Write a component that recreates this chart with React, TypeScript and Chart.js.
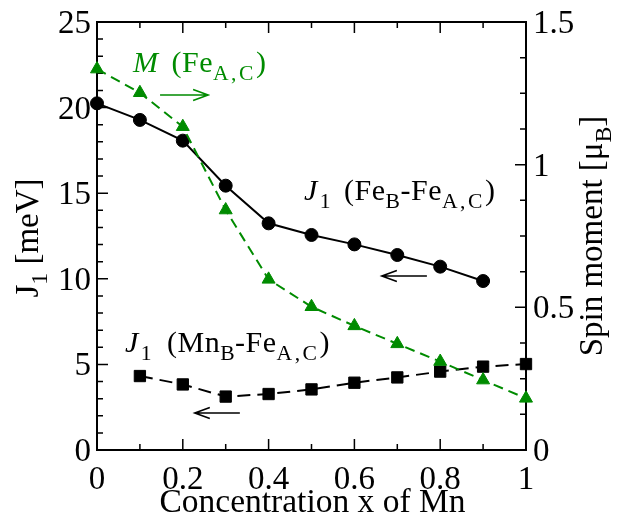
import React, { useEffect, useRef } from 'react';
import { Chart, registerables } from 'chart.js';

Chart.register(...registerables);

// ---- data ----
const concFe = [0, 0.1, 0.2, 0.3, 0.4, 0.5, 0.6, 0.7, 0.8, 0.9];
const j1FeFe = [20.25, 19.28, 18.07, 15.44, 13.24, 12.56, 12.01, 11.39, 10.71, 9.87];
const concMn = [0.1, 0.2, 0.3, 0.4, 0.5, 0.6, 0.7, 0.8, 0.9, 1.0];
const j1MnFe = [4.32, 3.83, 3.12, 3.27, 3.54, 3.93, 4.24, 4.58, 4.87, 5.02];
const concSpin = [0, 0.1, 0.2, 0.3, 0.4, 0.5, 0.6, 0.7, 0.8, 0.9, 1.0];
const spinMoment = [1.335, 1.252, 1.133, 0.841, 0.598, 0.502, 0.435, 0.372, 0.31, 0.245, 0.181];

const xTickValues = [0, 0.2, 0.4, 0.6, 0.8, 1];
const xTickLabels = ['0', '0.2', '0.4', '0.6', '0.8', '1'];
const leftTickValues = [0, 5, 10, 15, 20, 25];
const leftTickLabels = ['0', '5', '10', '15', '20', '25'];
const rightTickValues = [0, 0.5, 1, 1.5];
const rightTickLabels = ['0', '0.5', '1', '1.5'];

const GREEN = '#008b00';
const FONT = '"Liberation Serif", "Times New Roman", serif';

type Part = { t: string; it?: boolean; sub?: boolean; ls?: number; pre?: number };

const SUB_SCALE = 0.72;

function fontFor(p: Part, size: number) {
  const s = p.sub ? size * SUB_SCALE : size;
  return `${p.it ? 'italic ' : ''}${s}px ${FONT}`;
}
function setLs(ctx: any, v: number) {
  if ('letterSpacing' in ctx) ctx.letterSpacing = `${v}px`;
}
function measureRich(ctx: CanvasRenderingContext2D, parts: Part[], size: number, baseLs = 0) {
  let w = 0;
  for (const p of parts) {
    ctx.font = fontFor(p, size);
    setLs(ctx, p.ls ?? baseLs);
    w += (p.pre ?? 0) + ctx.measureText(p.t).width;
  }
  setLs(ctx, 0);
  return w;
}
function drawRich(ctx: CanvasRenderingContext2D, parts: Part[], x: number, y: number, size: number, baseLs = 0) {
  let cx = x;
  ctx.textAlign = 'left';
  ctx.textBaseline = 'alphabetic';
  for (const p of parts) {
    ctx.font = fontFor(p, size);
    setLs(ctx, p.ls ?? baseLs);
    cx += p.pre ?? 0;
    ctx.fillText(p.t, cx, y + (p.sub ? size * 0.28 : 0));
    cx += ctx.measureText(p.t).width;
  }
  setLs(ctx, 0);
}
function arrow(ctx: CanvasRenderingContext2D, x0: number, x1: number, y: number, color: string) {
  const dir = x1 > x0 ? 1 : -1;
  ctx.save();
  ctx.strokeStyle = color;
  ctx.lineWidth = 1.6;
  ctx.beginPath();
  ctx.moveTo(x0, y);
  ctx.lineTo(x1, y);
  ctx.moveTo(x1 - dir * 15, y - 5.5);
  ctx.lineTo(x1, y);
  ctx.lineTo(x1 - dir * 15, y + 5.5);
  ctx.stroke();
  ctx.restore();
}

const labelM: Part[] = [
  { t: 'M', it: true },
  { t: ' (Fe', pre: 5 },
  { t: 'A,C', sub: true, ls: 2.5 },
  { t: ')' },
];
const labelFe: Part[] = [
  { t: 'J', it: true },
  { t: '1', sub: true, pre: 2 },
  { t: ' (Fe', pre: 5 },
  { t: 'B', sub: true },
  { t: '-Fe' },
  { t: 'A,C', sub: true, ls: 2.5 },
  { t: ')' },
];
const labelMn: Part[] = [
  { t: 'J', it: true },
  { t: '1', sub: true, pre: 2 },
  { t: ' (Mn', pre: 7 },
  { t: 'B', sub: true },
  { t: '-Fe' },
  { t: 'A,C', sub: true, ls: 2.5 },
  { t: ')' },
];

const framePlugin = {
  id: 'frame',
  beforeDatasetsDraw(chart: any) {
    const ctx: CanvasRenderingContext2D = chart.ctx;
    const { left, right, top, bottom } = chart.chartArea;
    const xs = chart.scales.x;
    const yl = chart.scales.y;
    const yr = chart.scales.y2;
    ctx.save();
    ctx.strokeStyle = '#000';
    ctx.lineWidth = 1.5;
    ctx.beginPath();
    for (let i = 0; i <= 10; i++) {
      const px = xs.getPixelForValue(i / 10);
      const len = i % 2 === 0 ? 11 : 6;
      ctx.moveTo(px, bottom);
      ctx.lineTo(px, bottom - len);
      ctx.moveTo(px, top);
      ctx.lineTo(px, top + len);
    }
    for (let i = 0; i <= 25; i++) {
      const py = yl.getPixelForValue(i);
      const len = i % 5 === 0 ? 11 : 6;
      ctx.moveTo(left, py);
      ctx.lineTo(left + len, py);
    }
    for (let i = 0; i <= 12; i++) {
      const py = yr.getPixelForValue(i * 0.125);
      const len = i % 4 === 0 ? 11 : 6;
      ctx.moveTo(right, py);
      ctx.lineTo(right - len, py);
    }
    ctx.stroke();
    ctx.lineWidth = 2;
    ctx.strokeRect(left, top, right - left, bottom - top);

    // tick labels
    ctx.fillStyle = '#000';
    ctx.font = `33px ${FONT}`;
    ctx.textBaseline = 'alphabetic';
    ctx.textAlign = 'center';
    xTickValues.forEach((v, i) => {
      ctx.fillText(xTickLabels[i], xs.getPixelForValue(v), bottom + 39);
    });
    ctx.textAlign = 'right';
    leftTickValues.forEach((v, i) => {
      ctx.fillText(leftTickLabels[i], left - 6, yl.getPixelForValue(v) + 11);
    });
    ctx.textAlign = 'left';
    rightTickValues.forEach((v, i) => {
      ctx.fillText(rightTickLabels[i], right + 7, yr.getPixelForValue(v) + 11);
    });

    // axis titles
    ctx.textAlign = 'center';
    ctx.font = `33.5px ${FONT}`;
    ctx.fillText('Concentration x of Mn', (left + right) / 2 + 1, bottom + 62);

    const lt: Part[] = [{ t: 'J' }, { t: '1', sub: true }, { t: ' [meV]' }];
    let w = measureRich(ctx, lt, 33);
    ctx.save();
    ctx.translate(38, (top + bottom) / 2 + 2);
    ctx.rotate(-Math.PI / 2);
    drawRich(ctx, lt, -w / 2, 0, 33);
    ctx.restore();

    const rt: Part[] = [{ t: 'Spin moment [\u03bc' }, { t: 'B', sub: true }, { t: ']' }];
    w = measureRich(ctx, rt, 33);
    ctx.save();
    ctx.translate(602, (top + bottom) / 2);
    ctx.rotate(-Math.PI / 2);
    drawRich(ctx, rt, -w / 2, 0, 33);
    ctx.restore();
    ctx.restore();
  },
  afterDatasetsDraw(chart: any) {
    const ctx: CanvasRenderingContext2D = chart.ctx;
    const xs = chart.scales.x;
    const yl = chart.scales.y;
    const yr = chart.scales.y2;
    ctx.save();
    ctx.fillStyle = GREEN;
    drawRich(ctx, labelM, xs.getPixelForValue(0.084), yr.getPixelForValue(1.325), 30, 0.5);
    arrow(ctx, xs.getPixelForValue(0.147), xs.getPixelForValue(0.259), yr.getPixelForValue(1.244), GREEN);
    ctx.fillStyle = '#000';
    drawRich(ctx, labelFe, xs.getPixelForValue(0.4825), yl.getPixelForValue(14.6), 30, 0.5);
    arrow(ctx, xs.getPixelForValue(0.769), xs.getPixelForValue(0.664), yl.getPixelForValue(10.16), '#000');
    drawRich(ctx, labelMn, xs.getPixelForValue(0.065), yl.getPixelForValue(5.72), 30, 0.5);
    arrow(ctx, xs.getPixelForValue(0.333), xs.getPixelForValue(0.228), yl.getPixelForValue(2.16), '#000');
    ctx.restore();
  },
};

export default function App() {
  const ref = useRef<HTMLCanvasElement>(null);
  useEffect(() => {
    const chart = new Chart(ref.current!, {
      type: 'scatter',
      data: {
        datasets: [
          {
            label: 'M (Fe A,C)',
            data: concSpin.map((x, i) => ({ x, y: spinMoment[i] })),
            yAxisID: 'y2',
            showLine: true,
            borderColor: GREEN,
            backgroundColor: GREEN,
            borderWidth: 2,
            borderDash: [10, 6],
            pointStyle: 'triangle',
            pointRadius: 7.5,
            pointBorderWidth: 1,
            clip: false as any,
            order: 1,
          },
          {
            label: 'J1 (FeB-FeA,C)',
            data: concFe.map((x, i) => ({ x, y: j1FeFe[i] })),
            yAxisID: 'y',
            showLine: true,
            borderColor: '#000',
            backgroundColor: '#000',
            borderWidth: 2,
            pointStyle: 'circle',
            pointRadius: 6.5,
            pointBorderWidth: 1,
            clip: false as any,
            order: 2,
          },
          {
            label: 'J1 (MnB-FeA,C)',
            data: concMn.map((x, i) => ({ x, y: j1MnFe[i] })),
            yAxisID: 'y',
            showLine: true,
            borderColor: '#000',
            backgroundColor: '#000',
            borderWidth: 2,
            borderDash: [13, 7],
            pointStyle: 'rect',
            pointRadius: 8,
            pointBorderWidth: 1,
            clip: false as any,
            order: 3,
          },
        ],
      },
      options: {
        responsive: false,
        animation: false,
        devicePixelRatio: 1,
        layout: { padding: { left: 97, right: 102, top: 22, bottom: 64 } },
        scales: {
          x: { type: 'linear', min: 0, max: 1, display: false },
          y: { type: 'linear', min: 0, max: 25, display: false },
          y2: { type: 'linear', min: 0, max: 1.5, display: false, position: 'right' },
        },
        plugins: { legend: { display: false }, tooltip: { enabled: false } },
      },
      plugins: [framePlugin],
    });
    return () => chart.destroy();
  }, []);
  return (
    <div style={{ position: 'absolute', left: 0, top: 0, width: 628, height: 514, background: '#fff' }}>
      <canvas ref={ref} width={628} height={514} style={{ display: 'block' }} />
    </div>
  );
}
